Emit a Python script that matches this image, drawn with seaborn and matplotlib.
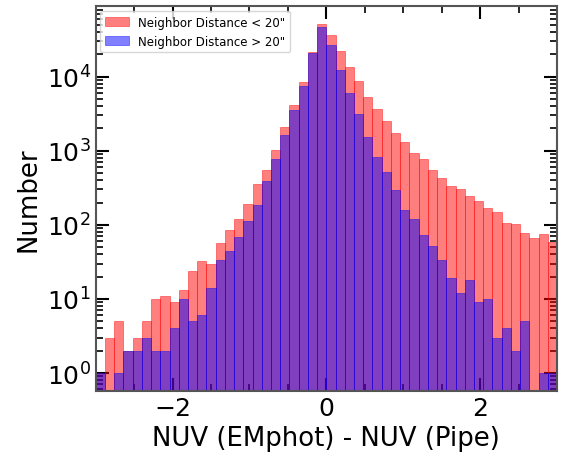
import numpy as np
import pandas as pd
import matplotlib
matplotlib.use("Agg")
import matplotlib.pyplot as plt
from matplotlib.ticker import MultipleLocator, LogLocator, NullFormatter
import seaborn as sns

# Histogram binning: 50 bins of width 0.12 between -3 and 3
bin_lo, bin_hi, n_bins = -3.0, 3.0, 50
bin_edges = np.linspace(bin_lo, bin_hi, n_bins + 1)
bin_centers = 0.5 * (bin_edges[:-1] + bin_edges[1:])

# Counts per bin for sources with a close neighbour (< 20")
counts_near = [1, 3, 5, 2, 3, 5, 10, 11, 9, 13,
               24, 32, 30, 57, 85, 120, 191, 355, 549, 1021,
               2089, 4140, 8450, 21500, 51300, 36400, 22100, 13500, 8720, 5310,
               3650, 2520, 1733, 1310, 931, 773, 549, 428, 334, 304,
               245, 210, 169, 149, 106, 103, 77, 66, 75, 59]

# Counts per bin for isolated sources (> 20")
counts_far = [1, 0, 1, 2, 2, 3, 2, 2, 4, 10,
              5, 6, 14, 33, 44, 68, 112, 185, 390, 773,
              1629, 3540, 7460, 20800, 46700, 26700, 12300, 6010, 3130, 1530,
              822, 516, 295, 158, 120, 73, 52, 33, 19, 12,
              18, 9, 10, 3, 4, 2, 5, 0, 1, 1]

labels = ['Neighbor Distance < 20"', 'Neighbor Distance > 20"']

df_near = pd.DataFrame({"diff": bin_centers, "n": counts_near})
df_far = pd.DataFrame({"diff": bin_centers, "n": counts_far})

sns.set_style("ticks")
plt.rcParams["font.family"] = ["DejaVu Sans"]
plt.rcParams["text.color"] = "black"
plt.rcParams["axes.labelcolor"] = "black"
plt.rcParams["xtick.color"] = "black"
plt.rcParams["ytick.color"] = "black"

fig = plt.figure(figsize=(5.64, 4.56), dpi=100)
ax = fig.add_axes([0.1697, 0.141, 0.8179, 0.843])

binwidth = (bin_hi - bin_lo) / n_bins
sns.histplot(data=df_near, x="diff", weights="n", binwidth=binwidth,
             binrange=(bin_lo, bin_hi),
             facecolor=(1, 0, 0, 0.5), edgecolor=(1, 0, 0, 0.5), linewidth=0.6,
             label=labels[0], ax=ax)
sns.histplot(data=df_far, x="diff", weights="n", binwidth=binwidth,
             binrange=(bin_lo, bin_hi),
             facecolor=(0, 0, 1, 0.5), edgecolor=(0, 0, 1, 0.5), linewidth=0.6,
             label=labels[1], ax=ax)

ax.set_yscale("log")
ax.set_xlim(-3, 3)
ax.set_ylim(0.577, 8.9e4)

ax.xaxis.set_major_locator(MultipleLocator(2))
ax.xaxis.set_minor_locator(MultipleLocator(0.5))
ax.yaxis.set_major_locator(LogLocator(base=10, numticks=10))
ax.yaxis.set_minor_locator(LogLocator(base=10, subs=np.arange(2, 10), numticks=20))
ax.yaxis.set_minor_formatter(NullFormatter())

ax.tick_params(which="both", direction="in", top=True, right=True,
               labelsize=18, color="black", labelcolor="black")
ax.tick_params(which="major", length=9.5, width=1.5)
ax.tick_params(which="minor", length=5, width=1.2)

for s in ax.spines.values():
    s.set_linewidth(1.5)
    s.set_color("#555555")

ax.set_xlabel("NUV (EMphot) - NUV (Pipe)", fontsize=18.7, color="black")
ax.set_ylabel("Number", fontsize=18.7, color="black")

ax.legend(loc="upper left", fontsize=8.5, borderaxespad=0.4, handlelength=2.0)

fig.savefig("out.png", dpi=100)
